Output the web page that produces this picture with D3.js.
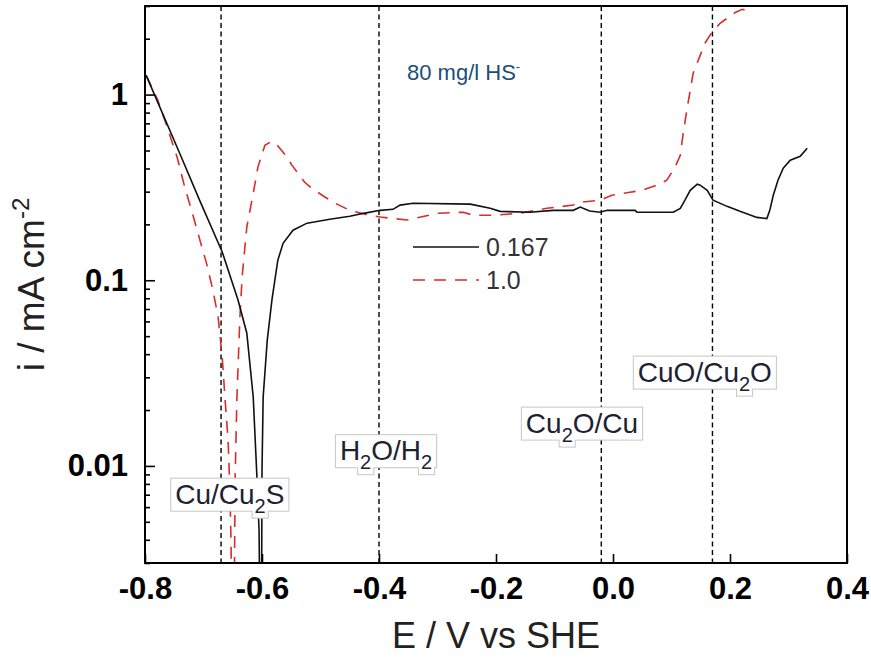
<!DOCTYPE html>
<meta charset="utf-8">
<html>
<style>
body { margin: 0; background: #fff; }
svg text { font-family: "Liberation Sans", Arial, sans-serif; }
.frame { fill: none; stroke: #000; stroke-width: 2; }
.tick line { stroke: #000; stroke-width: 1.6; }
.ref { stroke: #000; stroke-width: 1.4; stroke-dasharray: 5,3.5; }
.curve { fill: none; stroke-width: 1.6; }
</style>
<body>
<script src="https://cdn.jsdelivr.net/npm/d3@7"></script>
<script>

var width = 871, height = 660;
var margin = {left: 145, right: 24, top: 6, bottom: 97};

// series 0.167 (black, solid)
var blackE = [-0.798, -0.740, -0.706, -0.668, -0.641, -0.626, -0.615, -0.609, -0.605, -0.603,
  -0.601, -0.600, -0.598, -0.591, -0.583, -0.573, -0.564, -0.547, -0.523, -0.484, -0.450, -0.424,
  -0.398, -0.376, -0.364, -0.342, -0.244, -0.210, -0.193, -0.142, -0.103, -0.068, -0.056, -0.040,
  -0.022, -0.010, 0.038, 0.041, 0.103, 0.115, 0.123, 0.132, 0.144, 0.149, 0.161, 0.171, 0.195,
  0.217, 0.246, 0.263, 0.268, 0.274, 0.282, 0.291, 0.303, 0.320, 0.332];
var blackI = [1.27, 0.477, 0.267, 0.142, 0.0783, 0.052, 0.0235, 0.0092, 0.0045, 0.001,
  0.001, 0.0095, 0.0235, 0.0476, 0.0783, 0.128, 0.158, 0.186, 0.203, 0.213, 0.221, 0.23,
  0.238, 0.241, 0.254, 0.26, 0.257, 0.244, 0.235, 0.2325, 0.238, 0.238, 0.248, 0.236,
  0.2325, 0.238, 0.238, 0.2325, 0.2325, 0.244, 0.270, 0.305, 0.329, 0.325, 0.305, 0.270, 0.250,
  0.235, 0.218, 0.215, 0.238, 0.287, 0.346, 0.401, 0.443, 0.465, 0.514];

// series 1.0 (red, dashed)
var redE = [-0.798, -0.778, -0.762, -0.745, -0.732, -0.718, -0.706, -0.694, -0.684, -0.675,
  -0.668, -0.663, -0.658, -0.655, -0.653, -0.651, -0.648, -0.646, -0.643, -0.638, -0.634,
  -0.626, -0.615, -0.607, -0.595, -0.586, -0.578, -0.557, -0.549, -0.527, -0.515, -0.492,
  -0.475, -0.450, -0.424, -0.398, -0.352, -0.299, -0.256, -0.239, -0.205, -0.159, -0.113,
  -0.096, -0.068, -0.056, -0.022, -0.002, 0.029, 0.050, 0.075, 0.092, 0.106, 0.115, 0.120,
  0.127, 0.132, 0.137, 0.149, 0.157, 0.169, 0.183, 0.209, 0.221, 0.231];
var redI = [1.27, 0.932, 0.666, 0.459, 0.317, 0.224, 0.164, 0.1206, 0.0885, 0.0633,
  0.0385, 0.0226, 0.0138, 0.0077, 0.004, 0.001, 0.001, 0.0084, 0.0226, 0.061, 0.104,
  0.193, 0.294, 0.407, 0.533, 0.554, 0.554, 0.459, 0.417, 0.337, 0.313, 0.280,
  0.260, 0.238, 0.227, 0.219, 0.211, 0.2297, 0.2325, 0.224, 0.224, 0.2297, 0.244,
  0.248, 0.254, 0.263, 0.270, 0.287, 0.298, 0.305, 0.325, 0.346, 0.406, 0.471, 0.619,
  0.854, 1.055, 1.302, 1.627, 1.888, 2.16, 2.42, 2.77, 2.88, 2.81];

var seriesNames = ["0.167", "1.0"];
var xTicks = [-0.8, -0.6, -0.4, -0.2, 0.0, 0.2, 0.4];
var yTicks = [1, 0.1, 0.01];
var yTickLabels = ["1", "0.1", "0.01"];

// equilibrium potentials (dashed verticals) and their names, "_" = subscript
var refE = [-0.67, -0.40, -0.02, 0.17];
var refNames = ["Cu/Cu_2S", "H_2O/H_2", "Cu_2O/Cu", "CuO/Cu_2O"];

var svg = d3.select("body").append("svg")
  .attr("width", width).attr("height", height);

var x = d3.scaleLinear().domain([-0.8, 0.4]).range([margin.left, width - margin.right]);
var y = d3.scaleLog().domain([0.003, 3]).range([height - margin.bottom, margin.top]);

svg.append("defs").append("clipPath").attr("id", "plotclip")
  .append("rect")
  .attr("x", x.range()[0]).attr("y", y.range()[1])
  .attr("width", x.range()[1] - x.range()[0])
  .attr("height", y.range()[0] - y.range()[1]);

// dashed reference lines
svg.append("g").selectAll("line").data(refE).enter().append("line")
  .attr("class", "ref")
  .attr("x1", d => x(d)).attr("x2", d => x(d))
  .attr("y1", y.range()[1]).attr("y2", y.range()[0]);

// curves
var line = d3.line().x(d => x(d[0])).y(d => y(d[1]));
var plot = svg.append("g").attr("clip-path", "url(#plotclip)");
plot.append("path").attr("class", "curve")
  .attr("stroke", "#d62d2d").attr("stroke-dasharray", "12,9")
  .attr("d", line(d3.zip(redE, redI)));
plot.append("path").attr("class", "curve")
  .attr("stroke", "#111")
  .attr("d", line(d3.zip(blackE, blackI)));

// axes
var xAxis = d3.axisBottom(x).tickValues(xTicks).tickFormat(d => d.toFixed(1))
  .tickSizeInner(-9).tickSizeOuter(0).tickPadding(14);
var gx = svg.append("g").attr("transform", "translate(0," + y.range()[0] + ")").call(xAxis);

var minor = [];
[0.001, 0.01, 0.1, 1].forEach(function(dec) {
  for (var k = 2; k <= 9; k++) {
    var v = k * dec;
    if (v >= 0.003 && v <= 3.0001) minor.push(v);
  }
});
var gyMinor = svg.append("g").attr("transform", "translate(" + x.range()[0] + ",0)")
  .call(d3.axisLeft(y).tickValues(minor).tickFormat("").tickSizeInner(-5).tickSizeOuter(0));
var yAxis = d3.axisLeft(y).tickValues(yTicks).tickFormat((d, i) => yTickLabels[i])
  .tickSizeInner(-10).tickSizeOuter(0).tickPadding(17);
var gy = svg.append("g").attr("transform", "translate(" + x.range()[0] + ",0)").call(yAxis);

[gx, gy, gyMinor].forEach(function(g) {
  g.select(".domain").remove();
  g.selectAll("text").attr("font-size", 31).attr("font-weight", "bold").attr("fill", "#000")
    .style("font-family", "'Liberation Sans', Arial, sans-serif");
});

svg.append("rect").attr("class", "frame")
  .attr("x", x.range()[0]).attr("y", y.range()[1])
  .attr("width", x.range()[1] - x.range()[0])
  .attr("height", y.range()[0] - y.range()[1]);

// axis titles
svg.append("text")
  .attr("x", (x.range()[0] + x.range()[1]) / 2).attr("y", 648)
  .attr("text-anchor", "middle").attr("font-size", 36).attr("fill", "#222")
  .text("E / V vs SHE");

var yt = svg.append("text")
  .attr("transform", "translate(44," + (y.range()[0] + y.range()[1]) / 2 + ") rotate(-90)")
  .attr("text-anchor", "middle").attr("font-size", 37).attr("fill", "#222");
yt.append("tspan").text("i / mA cm");
yt.append("tspan").attr("font-size", 24).attr("dy", -15).text("-2");

// concentration note
var note = svg.append("text").attr("x", 407).attr("y", 80)
  .attr("font-size", 22).attr("fill", "#1b4e7a");
note.append("tspan").text("80 mg/l HS");
note.append("tspan").attr("font-size", 13).attr("dy", -9).text("-");

// legend
var legend = svg.append("g");
seriesNames.forEach(function(name, i) {
  var ly = 247 + i * 33;
  legend.append("line")
    .attr("x1", 413).attr("x2", 479).attr("y1", ly).attr("y2", ly)
    .attr("stroke", i == 0 ? "#111" : "#d62d2d").attr("stroke-width", 1.6)
    .attr("stroke-dasharray", i == 0 ? null : "12,9");
  legend.append("text").attr("x", 486).attr("y", ly + 9)
    .attr("font-size", 25).attr("fill", "#333").text(name);
});

// boxed labels of the reference potentials
var labelAt = [[-0.655, 0.0070], [-0.388, 0.0120], [-0.053, 0.0169], [0.157, 0.0318]];

function boxLabel(str, cx, cy) {
  var g = svg.append("g");
  var base = cy + 9;
  var t = g.append("text").attr("y", base).attr("font-size", 28).attr("fill", "#1d2233");
  var parts = str.split(/(_\d)/).filter(s => s.length);
  var subIdx = [], idx = 0, shifted = false;
  parts.forEach(function(p) {
    if (p[0] == "_") {
      t.append("tspan").attr("font-size", 20).attr("dy", shifted ? 0 : 9).text(p.slice(1));
      subIdx.push(idx); idx += 1; shifted = true;
    } else {
      t.append("tspan").attr("dy", shifted ? -9 : 0).text(p);
      idx += p.length; shifted = false;
    }
  });
  var w = t.node().getComputedTextLength();
  t.attr("x", cx - w / 2);
  var left = cx - w / 2 - 4, right = cx + w / 2 + 4;
  var boxes = [{x: left, y: base - 25, w: right - left, h: 32}];
  subIdx.forEach(function(k) {
    var ext = t.node().getExtentOfChar(k);
    boxes.push({x: ext.x - 2, y: base, w: ext.width + 4, h: 14});
  });
  boxes.forEach(function(b) {
    g.insert("rect", "text").attr("x", b.x).attr("y", b.y).attr("width", b.w).attr("height", b.h)
      .attr("fill", "none").attr("stroke", "#c6c6c6").attr("stroke-width", 2);
  });
  boxes.forEach(function(b) {
    g.insert("rect", "text").attr("x", b.x).attr("y", b.y).attr("width", b.w).attr("height", b.h)
      .attr("fill", "#fff");
  });
}

refNames.forEach(function(n, i) {
  boxLabel(n, x(labelAt[i][0]), y(labelAt[i][1]));
});

</script>
</body>
</html>
